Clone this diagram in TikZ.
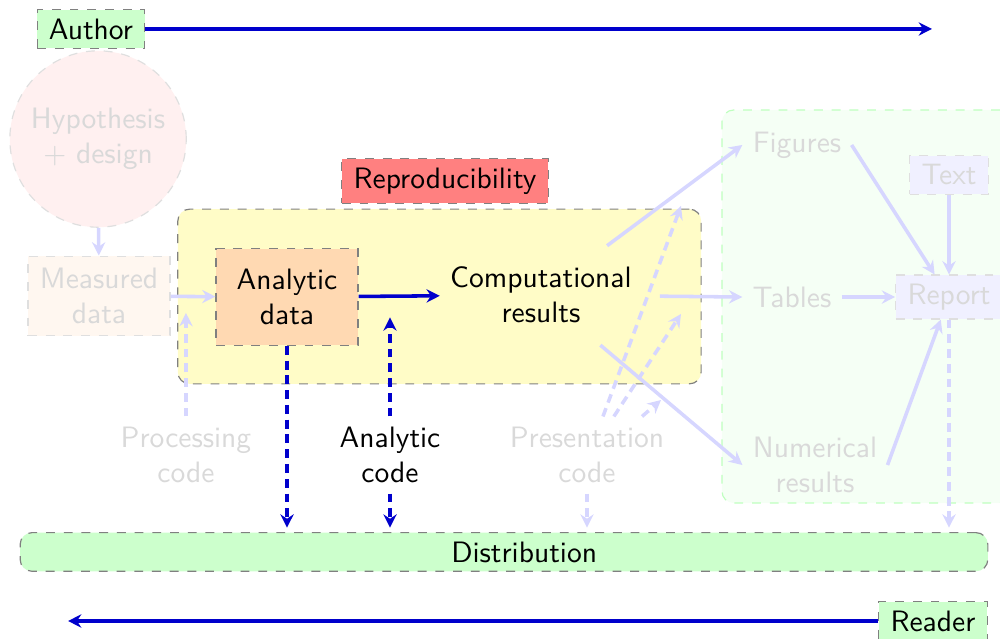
\documentclass[tikz,border=0pt]{standalone}
\usepackage{tikz}
\usetikzlibrary{arrows.meta,positioning}

\begin{document}
\begin{tikzpicture}[font=\sffamily,
  box/.style={draw=gray,dashed,align=center,inner xsep=4pt,inner ysep=3pt},
  faded/.style={text=black!15},
  fbox/.style={box,faded,draw=gray!25},
  flow/.style={-{Stealth[length=4.5pt,width=4.5pt,inset=1.5pt]},very thick,blue!80!black},
  fflow/.style={flow,blue!16},
  code/.style={flow,dash pattern=on 3pt off 2pt,shorten >=1.5pt},
  fcode/.style={fflow,dash pattern=on 3pt off 2pt}]
\useasboundingbox (0,0) rectangle (11.905,7.607);
% regions
\node[box,fill=yellow!22,rounded corners,minimum width=6.23cm,minimum height=2.08cm] (repro) at (5.232,4.077) {};
\node[box,fill=green!4,draw=green!25,rounded corners,minimum width=3.45cm,minimum height=4.68cm] (pubs) at (10.32,3.958) {};
\node[box,fill=red!50] (reprolab) at (5.298,5.452) {Reproducibility};
\node[box,fill=green!20,rounded corners,minimum width=11.52cm,minimum height=0.46cm] (dist) at (6.0,1.036) {\hspace*{0.48cm}Distribution};
% actors
\node[box,fill=green!20] (author) at (1.083,7.262) {Author};
\node[box,fill=green!20] (reader) at (11.107,0.214) {Reader};
\coordinate (authend) at (11.095,7.262);
\coordinate (readend) at (0.81,0.214);
% data
\node[fbox,circle,fill=red!6,minimum size=2.1cm] (hyp) at (1.167,5.952) {Hypothesis\\$+$ design};
\node[fbox,fill=orange!6,minimum width=1.69cm,minimum height=0.95cm] (meas) at (1.179,4.083) {Measured\\data};
\node[box,fill=orange!30,minimum width=1.69cm,minimum height=1.15cm] (adata) at (3.417,4.071) {Analytic\\data};
\node[align=center] (comp) at (6.44,4.095) {Computational\\results};
% code
\node[align=center,faded] (pcode) at (2.214,2.19) {Processing\\code};
\node[align=center] (acode) at (4.643,2.19) {Analytic\\code};
\node[align=center,faded] (prcode) at (6.988,2.19) {Presentation\\code};
\coordinate (pin) at (2.214,3.881);
\coordinate (ain) at (4.643,3.881);
\coordinate (pf) at (8.107,5.155);
\coordinate (pt) at (8.107,3.869);
\coordinate (pn) at (7.869,2.845);
% outputs
\node[faded] (fig) at (9.488,5.881) {Figures};
\node[faded] (tab) at (9.429,4.071) {Tables};
\node[align=center,faded] (num) at (9.702,2.071) {Numerical\\results};
\node[fbox,fill=blue!6] (txt) at (11.298,5.524) {Text};
\node[fbox,fill=blue!6] (rep) at (11.298,4.071) {Report};
% flow
\draw[flow] (author) -- (authend);
\draw[flow] (reader) -- (readend);
\draw[fflow] (hyp) -- (meas);
\draw[fflow] (meas) -- (adata);
\draw[flow] (adata) -- (comp);
\foreach \t in {fig,tab,num}{\draw[fflow,shorten <=6pt] (comp) -- (\t.west);}
\draw[fflow] (fig.east) -- (rep);
\draw[fflow] (txt) -- (rep);
\draw[fflow] (tab) -- (rep);
\draw[fflow] (num.east) -- (rep);
% code arrows
\draw[fcode] (pcode) -- (pin);
\draw[code] (acode) -- (ain);
\draw[code] (acode) -- (acode |- dist.north);
\draw[code] (adata) -- (adata |- dist.north);
\draw[fcode,shorten >=1.5pt] (prcode) -- (prcode |- dist.north);
\draw[fcode,shorten >=1.5pt] (rep) -- (rep |- dist.north);
\foreach \dx/\e in {0.19/pf,0.32/pt,0.655/pn}{\draw[fcode] ([xshift=\dx cm]prcode.north) -- (\e);}
\end{tikzpicture}
\end{document}
